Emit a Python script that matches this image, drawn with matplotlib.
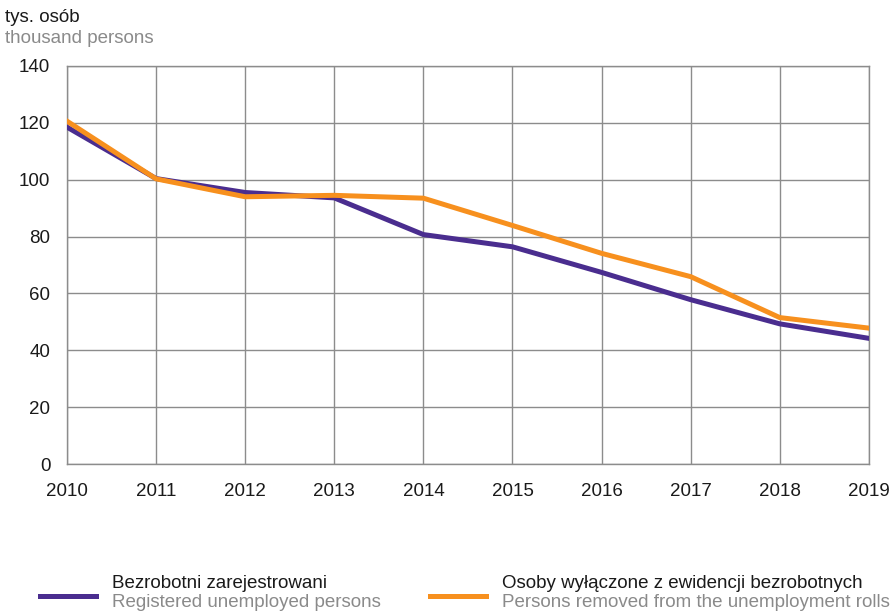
"""Registered unemployed vs persons removed from the rolls, 2010-2019."""

import matplotlib

matplotlib.use("Agg")

import matplotlib.pyplot as plt
from matplotlib.lines import Line2D

plt.rcParams["font.family"] = ["Liberation Sans", "DejaVu Sans"]

YEARS = [2010, 2011, 2012, 2013, 2014, 2015, 2016, 2017, 2018, 2019]
REGISTERED = [118.5, 100.4, 95.5, 93.6, 80.7, 76.4, 67.4, 57.8, 49.3, 44.2]
REMOVED = [120.6, 100.3, 94.0, 94.5, 93.5, 83.9, 74.1, 65.9, 51.5, 47.8]
Y_TICKS = [0, 20, 40, 60, 80, 100, 120, 140]

PURPLE = "#4a2d8f"
ORANGE = "#f7901e"
GRID = "#8c8c8c"
GREY_TEXT = "#8a8a8a"
FS = 13.5

fig = plt.figure(figsize=(8.93, 6.12), dpi=100)
ax = fig.add_axes([0.075, 0.2418, 0.898, 0.6504])

ax.plot(YEARS, REGISTERED, color=PURPLE, lw=3.6, solid_joinstyle="miter", zorder=3)
ax.plot(YEARS, REMOVED, color=ORANGE, lw=3.6, solid_joinstyle="miter", zorder=4)

ax.set_xlim(YEARS[0], YEARS[-1])
ax.set_ylim(0, 140)
ax.set_xticks(YEARS)
ax.set_yticks(Y_TICKS)
ax.grid(True, color=GRID, lw=1.0)
ax.set_axisbelow(True)
for spine in ax.spines.values():
    spine.set_color(GRID)
    spine.set_linewidth(1.0)
ax.tick_params(length=0, labelsize=FS, colors="#1a1a1a")
ax.tick_params(axis="x", pad=14)
ax.tick_params(axis="y", pad=12)

fig.text(0.006, 0.972, "tys. osób", fontsize=FS, color="#1a1a1a", va="center")
fig.text(0.006, 0.937, "thousand persons", fontsize=FS, color=GREY_TEXT, va="center")

legend_items = [
    (0.045, PURPLE, "Bezrobotni zarejestrowani", "Registered unemployed persons"),
    (0.482, ORANGE, "Osoby wyłączone z ewidencji bezrobotnych",
     "Persons removed from the unemployment rolls"),
]
for x0, colour, pl_label, en_label in legend_items:
    fig.add_artist(Line2D([x0, x0 + 0.062], [0.026, 0.026], color=colour, lw=3.6,
                          transform=fig.transFigure))
    fig.text(x0 + 0.08, 0.046, pl_label, fontsize=FS, color="#1a1a1a", va="center")
    fig.text(x0 + 0.08, 0.015, en_label, fontsize=FS, color=GREY_TEXT, va="center")

fig.savefig("out.png", dpi=100)
plt.close(fig)
